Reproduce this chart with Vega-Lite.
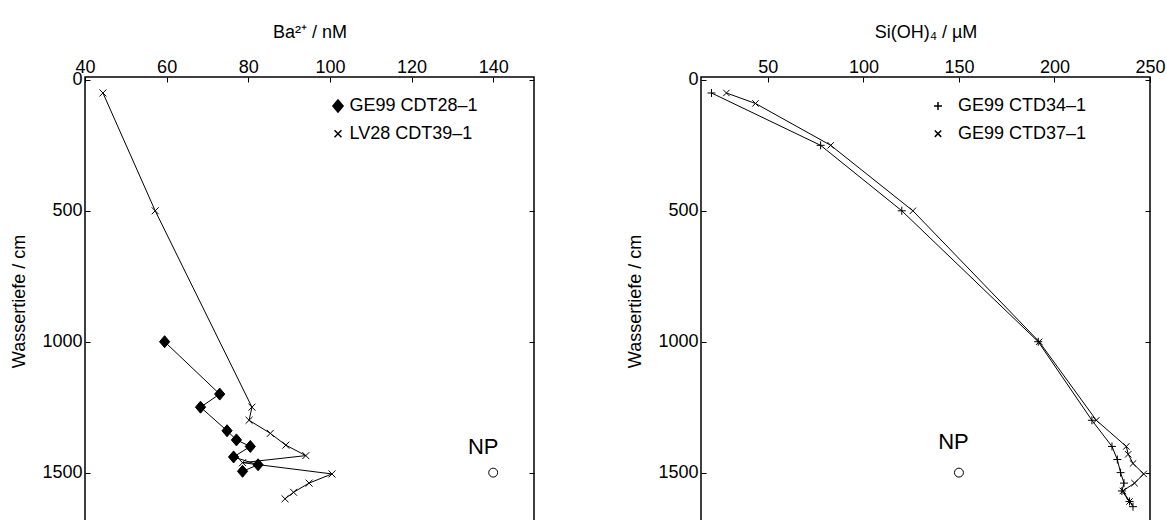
{
  "$schema": "https://vega.github.io/schema/vega-lite/v6.json",
  "padding": {"left": 9, "top": 22, "right": 0, "bottom": 0},
  "background": "white",
  "datasets": {
    "ba": [
      {"series": "GE99 CDT28–1", "x": 59.5, "depth": 1000},
      {"series": "GE99 CDT28–1", "x": 73.0, "depth": 1200},
      {"series": "GE99 CDT28–1", "x": 68.3, "depth": 1250},
      {"series": "GE99 CDT28–1", "x": 74.8, "depth": 1340},
      {"series": "GE99 CDT28–1", "x": 77.1, "depth": 1375},
      {"series": "GE99 CDT28–1", "x": 80.5, "depth": 1400},
      {"series": "GE99 CDT28–1", "x": 76.4, "depth": 1440},
      {"series": "GE99 CDT28–1", "x": 82.4, "depth": 1470},
      {"series": "GE99 CDT28–1", "x": 78.6, "depth": 1495},
      {"series": "LV28 CDT39–1", "x": 44.4, "depth": 50},
      {"series": "LV28 CDT39–1", "x": 57.2, "depth": 500},
      {"series": "LV28 CDT39–1", "x": 80.9, "depth": 1250},
      {"series": "LV28 CDT39–1", "x": 80.2, "depth": 1300},
      {"series": "LV28 CDT39–1", "x": 85.4, "depth": 1350},
      {"series": "LV28 CDT39–1", "x": 89.2, "depth": 1395},
      {"series": "LV28 CDT39–1", "x": 94.1, "depth": 1435},
      {"series": "LV28 CDT39–1", "x": 78.6, "depth": 1462},
      {"series": "LV28 CDT39–1", "x": 100.5, "depth": 1505},
      {"series": "LV28 CDT39–1", "x": 94.9, "depth": 1540},
      {"series": "LV28 CDT39–1", "x": 91.1, "depth": 1575},
      {"series": "LV28 CDT39–1", "x": 89.0, "depth": 1600}
    ],
    "si": [
      {"series": "GE99 CTD34–1", "x": 20.5, "depth": 50},
      {"series": "GE99 CTD34–1", "x": 77.6, "depth": 250},
      {"series": "GE99 CTD34–1", "x": 120.1, "depth": 500},
      {"series": "GE99 CTD34–1", "x": 191.5, "depth": 1000},
      {"series": "GE99 CTD34–1", "x": 219.6, "depth": 1300},
      {"series": "GE99 CTD34–1", "x": 230.1, "depth": 1400},
      {"series": "GE99 CTD34–1", "x": 232.9, "depth": 1450},
      {"series": "GE99 CTD34–1", "x": 234.6, "depth": 1500},
      {"series": "GE99 CTD34–1", "x": 236.4, "depth": 1540},
      {"series": "GE99 CTD34–1", "x": 235.3, "depth": 1570},
      {"series": "GE99 CTD34–1", "x": 239.3, "depth": 1610},
      {"series": "GE99 CTD34–1", "x": 241.1, "depth": 1630},
      {"series": "GE99 CTD37–1", "x": 28.3, "depth": 50},
      {"series": "GE99 CTD37–1", "x": 43.5, "depth": 90},
      {"series": "GE99 CTD37–1", "x": 82.9, "depth": 250},
      {"series": "GE99 CTD37–1", "x": 125.9, "depth": 500},
      {"series": "GE99 CTD37–1", "x": 192.0, "depth": 1000},
      {"series": "GE99 CTD37–1", "x": 221.9, "depth": 1300},
      {"series": "GE99 CTD37–1", "x": 237.6, "depth": 1400},
      {"series": "GE99 CTD37–1", "x": 238.6, "depth": 1430},
      {"series": "GE99 CTD37–1", "x": 241.1, "depth": 1465},
      {"series": "GE99 CTD37–1", "x": 246.7, "depth": 1505},
      {"series": "GE99 CTD37–1", "x": 241.9, "depth": 1540},
      {"series": "GE99 CTD37–1", "x": 235.8, "depth": 1570},
      {"series": "GE99 CTD37–1", "x": 239.3, "depth": 1610}
    ],
    "npba": [{"x": 140, "depth": 1500, "label": "NP"}],
    "npsi": [{"x": 150, "depth": 1500, "label": "NP"}]
  },
  "hconcat": [
    {
      "width": 449,
      "height": 448,
      "layer": [
        {
          "data": {"name": "ba"},
          "encoding": {
            "x": {"field": "x", "type": "quantitative", "scale": {"domain": [40, 150], "nice": false, "zero": false}, "axis": {"orient": "top", "title": "Ba²⁺ / nM", "values": [40, 60, 80, 100, 120, 140]}},
            "y": {"field": "depth", "type": "quantitative", "scale": {"domain": [-11, 1700], "reverse": true, "nice": false, "zero": false}, "axis": {"orient": "left", "title": "Wassertiefe / cm", "format": "d", "values": [0, 500, 1000, 1500]}}
          },
          "layer": [
            {"mark": {"type": "line", "color": "black", "strokeWidth": 1}, "encoding": {"detail": {"field": "series"}, "order": {"field": "depth", "type": "quantitative"}}},
            {"mark": {"type": "point", "fill": "black", "stroke": "black", "strokeWidth": 1, "opacity": 1, "size": 144},
             "encoding": {"shape": {"field": "series", "type": "nominal",
               "scale": {"domain": ["GE99 CDT28–1", "LV28 CDT39–1"], "range": ["M0,-1L0.85,0L0,1L-0.85,0Z", "M-0.58,-0.58L0.58,0.58M-0.58,0.58L0.58,-0.58"]},
               "legend": {"title": null, "orient": "none", "legendX": 244, "legendY": 20, "symbolSize": 144, "labelFontSize": 18, "labelColor": "black", "rowPadding": 9.7, "labelOffset": 2.5, "padding": 0,
                 "encode": {"symbols": {"update": {"fill": {"value": "black"}, "stroke": {"value": "black"}, "strokeWidth": {"value": 1}, "opacity": {"value": 1}}}}}}}}
          ]
        },
        {
          "data": {"name": "npba"},
          "encoding": {
            "x": {"field": "x", "type": "quantitative", "scale": {"domain": [40, 150], "nice": false, "zero": false}, "axis": {"orient": "top", "title": "Ba²⁺ / nM", "values": [40, 60, 80, 100, 120, 140]}},
            "y": {"field": "depth", "type": "quantitative", "scale": {"domain": [-11, 1700], "reverse": true, "nice": false, "zero": false}, "axis": {"orient": "right", "title": null, "labels": false, "values": [0, 500, 1000, 1500]}}
          },
          "layer": [
            {"mark": {"type": "point", "shape": "circle", "size": 80, "stroke": "black", "strokeWidth": 1, "filled": false, "opacity": 1}},
            {"mark": {"type": "text", "fontSize": 22, "dx": -10, "dy": -19, "baseline": "alphabetic", "color": "black"}, "encoding": {"text": {"field": "label"}}}
          ]
        }
      ],
      "resolve": {"scale": {"y": "independent"}}
    },
    {
      "width": 449,
      "height": 448,
      "layer": [
        {
          "data": {"name": "si"},
          "encoding": {
            "x": {"field": "x", "type": "quantitative", "scale": {"domain": [15, 250], "nice": false, "zero": false}, "axis": {"orient": "top", "title": "Si(OH)₄ / µM", "values": [50, 100, 150, 200, 250]}},
            "y": {"field": "depth", "type": "quantitative", "scale": {"domain": [-11, 1700], "reverse": true, "nice": false, "zero": false}, "axis": {"orient": "left", "title": "Wassertiefe / cm", "format": "d", "values": [0, 500, 1000, 1500]}}
          },
          "layer": [
            {"mark": {"type": "line", "color": "black", "strokeWidth": 1}, "encoding": {"detail": {"field": "series"}, "order": {"field": "depth", "type": "quantitative"}}},
            {"mark": {"type": "point", "fill": "black", "stroke": "black", "strokeWidth": 1, "opacity": 1, "size": 64},
             "encoding": {"shape": {"field": "series", "type": "nominal",
               "scale": {"domain": ["GE99 CTD34–1", "GE99 CTD37–1"], "range": ["M-1,0L1,0M0,-1L0,1", "M-0.8,-0.8L0.8,0.8M-0.8,0.8L0.8,-0.8"]},
               "legend": {"title": null, "orient": "none", "legendX": 228, "legendY": 20, "symbolSize": 64, "labelFontSize": 18, "labelColor": "black", "rowPadding": 9.7, "labelOffset": 11, "padding": 0,
                 "encode": {"symbols": {"update": {"fill": {"value": "black"}, "stroke": {"value": "black"}, "strokeWidth": {"value": 1}, "opacity": {"value": 1}}}}}}}}
          ]
        },
        {
          "data": {"name": "npsi"},
          "encoding": {
            "x": {"field": "x", "type": "quantitative", "scale": {"domain": [15, 250], "nice": false, "zero": false}, "axis": {"orient": "top", "title": "Si(OH)₄ / µM", "values": [50, 100, 150, 200, 250]}},
            "y": {"field": "depth", "type": "quantitative", "scale": {"domain": [-11, 1700], "reverse": true, "nice": false, "zero": false}, "axis": {"orient": "right", "title": null, "labels": false, "values": [0, 500, 1000, 1500]}}
          },
          "layer": [
            {"mark": {"type": "point", "shape": "circle", "size": 80, "stroke": "black", "strokeWidth": 1, "filled": false, "opacity": 1}},
            {"mark": {"type": "text", "fontSize": 22, "dx": -5.5, "dy": -24, "baseline": "alphabetic", "color": "black"}, "encoding": {"text": {"field": "label"}}}
          ]
        }
      ],
      "resolve": {"scale": {"y": "independent"}}
    }
  ],
  "resolve": {"scale": {"shape": "independent"}, "legend": {"shape": "independent"}},
  "spacing": 89,
  "config": {
    "font": "Liberation Sans",
    "view": {"stroke": "black", "strokeWidth": 1.5},
    "axis": {"domain": false, "grid": false, "tickColor": "black", "tickSize": -5, "tickWidth": 1, "labelFontSize": 18, "labelColor": "black", "labelFlush": false, "labelOverlap": false, "titleFontSize": 18, "titleFontWeight": "normal", "titleColor": "black"},
    "axisX": {"labelPadding": 6, "titlePadding": 17},
    "axisY": {"labelPadding": 8, "titlePadding": 13.5}
  }
}
